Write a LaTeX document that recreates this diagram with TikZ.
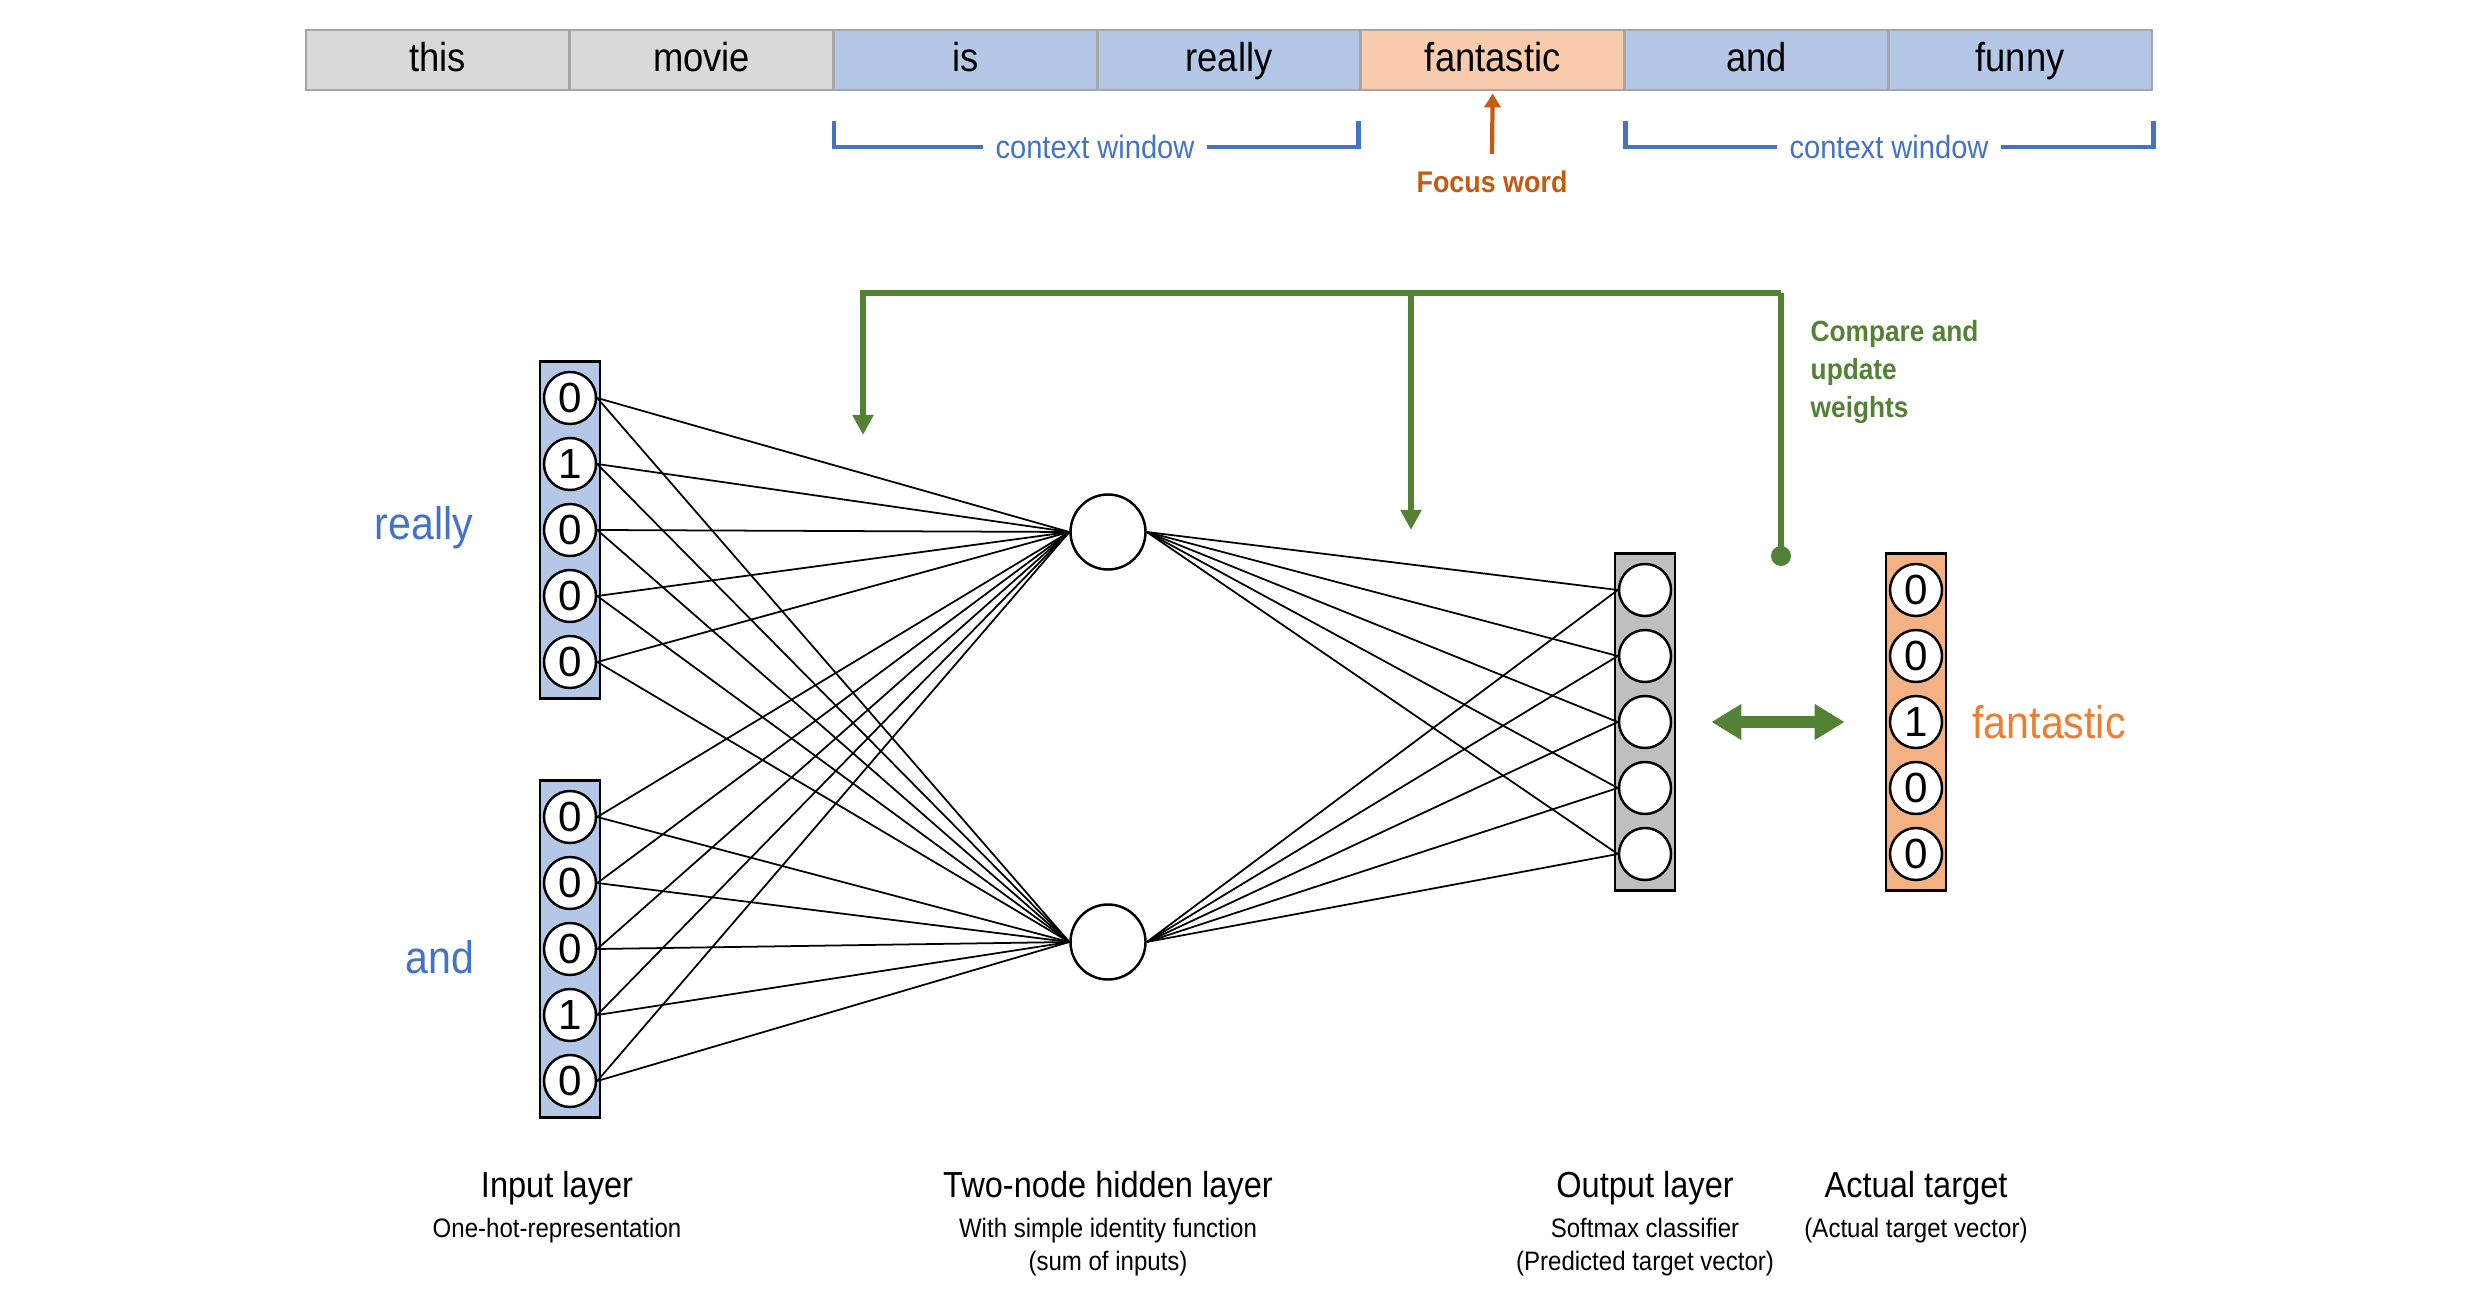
\documentclass[tikz,border=0pt]{standalone}
\usepackage{fontspec}
\setmainfont{Liberation Sans}[FakeStretch=0.9]
\newfontfamily\digitfont{Liberation Sans}
\usetikzlibrary{arrows.meta, positioning}
\definecolor{cellgray}{HTML}{D9D9D9}
\definecolor{cellblue}{HTML}{B4C7E7}
\definecolor{cellorange}{HTML}{F8CBAD}
\definecolor{cellborder}{HTML}{A6A6A6}
\definecolor{ctxblue}{HTML}{4472C4}
\definecolor{focusbrown}{HTML}{C55A11}
\definecolor{fbgreen}{HTML}{548235}
\definecolor{outgray}{HTML}{BFBFBF}
\definecolor{tgtorange}{HTML}{F4B183}
\definecolor{lblorange}{HTML}{ED7D31}

\begin{document}
\begin{tikzpicture}[
  cell/.style={draw=cellborder, line width=0.8pt, minimum width=2.637cm,
               minimum height=0.6cm, inner sep=0pt, text height=1.6ex, text depth=0.4ex,
               font=\fontsize{11.5}{13}\selectfont},
  ctx/.style={draw=ctxblue, line width=1.4pt},
  ctxtext/.style={text=ctxblue, inner sep=0.12cm, font=\fontsize{9.2}{11}\selectfont},
  fb/.style={draw=fbgreen, line width=1.7pt},
  fbtext/.style={text=fbgreen, align=left, inner sep=0pt,
                 font=\bfseries\fontsize{8.3}{10.8}\selectfont},
  vec/.style={draw, line width=0.8pt, minimum width=0.6cm, minimum height=3.37cm, inner sep=0pt},
  unit/.style={draw, circle, line width=0.7pt, fill=white, minimum size=0.52cm, inner sep=0pt,
               font=\digitfont\fontsize{12}{14}\selectfont},
  hid/.style={draw, circle, line width=0.7pt, fill=white, minimum size=0.75cm, inner sep=0pt},
  wire/.style={draw, line width=0.5pt},
  word/.style={font=\fontsize{13}{15}\selectfont},
  title/.style={inner sep=0pt, align=center, font=\fontsize{10.3}{12}\selectfont},
  sub/.style={inner sep=0pt, align=center, font=\fontsize{7.6}{9.4}\selectfont}
]
  \useasboundingbox (0,0) rectangle (24.83,13.10);

  % sentence
  \foreach \w/\c [count=\i] in {this/cellgray, movie/cellgray, is/cellblue, really/cellblue,
                                fantastic/cellorange, and/cellblue, funny/cellblue}
    \node[cell, fill=\c] (w\i) at ({3.06+2.637*(\i-0.5)}, 12.50) {\w};

  % context windows
  \node[ctxtext] (ctxl) at (10.95,11.63) {context window};
  \node[ctxtext] (ctxr) at (18.89,11.63) {context window};
  \coordinate (c1a) at ([xshift=0.02cm, yshift=-0.3cm]w3.south west);
  \coordinate (c1b) at ([xshift=-0.04cm, yshift=-0.3cm]w4.south east);
  \coordinate (c2a) at ([xshift=0.02cm, yshift=-0.3cm]w6.south west);
  \coordinate (c2b) at ([yshift=-0.3cm]w7.south east);
  \draw[ctx] (c1a) |- (ctxl.west);
  \draw[ctx] (c1b) |- (ctxl.east);
  \draw[ctx] (c2a) |- (ctxr.west);
  \draw[ctx] (c2b) |- (ctxr.east);

  % focus word
  \node[text=focusbrown, font=\bfseries\fontsize{8.5}{10}\selectfont] (fw) at (14.92,11.28) {Focus word};
  \coordinate (fa) at (14.92,11.56);
  \draw[focusbrown, line width=1.2pt, -{Triangle[width=0.16cm, length=0.14cm]}]
    (fa) -- ([yshift=-0.02cm]w5.south);

  % input vectors
  \node[vec, fill=cellblue] (inA) at (5.70,7.80) {};
  \node[vec, fill=cellblue] (inB) at (5.70,3.61) {};
  \foreach \v [count=\i] in {0,1,0,0,0}
    \node[unit] (a\i) at (5.70, {7.80+0.66*(3-\i)}) {\v};
  \foreach \v [count=\i] in {0,0,0,1,0}
    \node[unit] (b\i) at (5.70, {3.61+0.66*(3-\i)}) {\v};
  \node[word, text=ctxblue] (lreally) at (4.24,7.82) {really};
  \node[word, text=ctxblue] (land) at (4.40,3.53) {and};

  % hidden layer
  \node[hid] (h1) at (11.08,7.78) {};
  \node[hid] (h2) at (11.08,3.68) {};

  % output and target vectors
  \node[vec, fill=outgray] (outv) at (16.45,5.88) {};
  \node[vec, fill=tgtorange] (tgtv) at (19.16,5.88) {};
  \foreach \i in {1,...,5}
    \node[unit] (o\i) at (16.45, {5.88+0.66*(3-\i)}) {};
  \foreach \v [count=\i] in {0,0,1,0,0}
    \node[unit] (t\i) at (19.16, {5.88+0.66*(3-\i)}) {\v};
  \node[word, text=lblorange] (lfant) at (20.49,5.88) {fantastic};

  % weights
  \foreach \h in {h1,h2}
    \foreach \i in {1,...,5} {
      \draw[wire] (a\i.east) -- (\h.west);
      \draw[wire] (b\i.east) -- (\h.west);
      \draw[wire] (\h.east) -- (o\i.west);
    }

  % feedback
  \coordinate (g1) at (8.63,8.75);
  \coordinate (g2) at (14.11,7.80);
  \coordinate (g3) at (17.81,10.17);
  \coordinate (g4) at (17.81,7.54);
  \draw[fb, -{Triangle[width=0.2cm, length=0.2cm]}] (g3) -| (g1);
  \draw[fb, -{Triangle[width=0.2cm, length=0.2cm]}] (g2 |- g3) -- (g2);
  \draw[fb] (g3) -- (g4);
  \fill[fbgreen] (g4) circle (0.1cm);
  \node[fbtext, anchor=north west] (cmp) at (18.10,9.90) {Compare and\\update\\weights};
  \draw[fb, line width=3.4pt, {Triangle[width=0.34cm, length=0.3cm]}-{Triangle[width=0.34cm, length=0.3cm]}]
    ([xshift=0.35cm]outv.east) -- ([xshift=-0.4cm]tgtv.west);

  % captions
  \node[title] (tin)  at (5.57,1.22)  {Input layer};
  \node[title] (thid) at (11.08,1.22) {Two-node hidden layer};
  \node[title] (tout) at (16.45,1.22) {Output layer};
  \node[title] (ttgt) at (19.16,1.22) {Actual target};
  \node[sub, below=0.12cm of tin]  (sin)  {One-hot-representation};
  \node[sub, below=0.12cm of thid] (shid) {With simple identity function\\(sum of inputs)};
  \node[sub, below=0.12cm of tout] (sout) {Softmax classifier\\(Predicted target vector)};
  \node[sub, below=0.12cm of ttgt] (stgt) {(Actual target vector)};
\end{tikzpicture}
\end{document}
